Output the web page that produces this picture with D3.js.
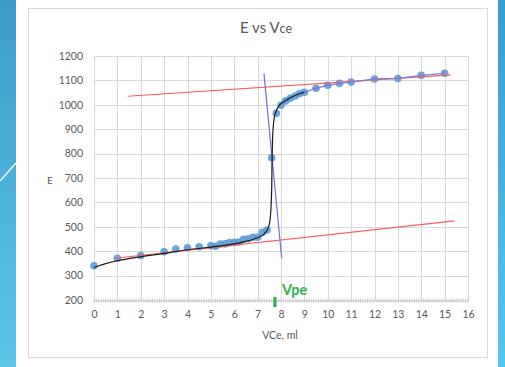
<!DOCTYPE html>
<html>
<head>
<meta charset="utf-8">
<script src="https://cdn.jsdelivr.net/npm/d3@7"></script>
<style>
  html, body { margin: 0; padding: 0; background: #fff; }
  svg { display: block; }
</style>
</head>
<body>
<svg id="chart" width="505" height="367"></svg>
<script>
// Titration readings: titrant volume (ml) and measured potential E
const vce = [0, 1, 2, 3, 3.5, 4, 4.5, 5, 5.2, 5.4, 5.6, 5.8, 6, 6.2, 6.4, 6.6, 6.8, 7, 7.2, 7.4,
             7.6, 7.8, 8, 8.2, 8.4, 8.6, 8.8, 9, 9.5, 10, 10.5, 11, 12, 13, 14, 15];
const eVals = [340, 371, 382, 398, 409, 414, 418, 422, 420, 429, 430, 435, 436, 438, 449, 451, 457, 457, 477, 487,
               783, 965, 998, 1016, 1027, 1036, 1046, 1051, 1068, 1080, 1088, 1093, 1106, 1108, 1121, 1129];

// Smoothed titration curve (hand-fitted)
const fitX = [0, 0.5, 1, 2, 3, 4, 5, 6, 6.5, 7, 7.25, 7.4, 7.5, 7.56, 7.6, 7.62, 7.66, 7.74, 7.9, 8.2, 8.6, 9];
const fitE = [333, 349, 361, 377, 391, 406, 417, 430, 440, 455, 468, 485, 510, 560, 650, 780, 900, 960, 995, 1018, 1038, 1052];

// Construction lines: two parallel baselines and the steep tangent
const upperLine = [[1.44, 1035], [15.26, 1123]];
const lowerLine = [[0.9, 371], [15.43, 524]];
const tangentLine = [[7.27, 1129], [8.03, 371]];

// Equivalence volume marker
const vpe = 7.74;

const xTicks = d3.range(0, 17);
const yTicks = d3.range(200, 1201, 100);

const svg = d3.select("#chart");
const W = 505, H = 367;

// Slide background strips
const defs = svg.append("defs");
const grad = defs.append("linearGradient").attr("id", "slideBlue")
  .attr("x1", 0).attr("y1", 0).attr("x2", 0).attr("y2", 1);
grad.append("stop").attr("offset", "0%").attr("stop-color", "#3c9ccb");
grad.append("stop").attr("offset", "100%").attr("stop-color", "#5ac6e8");

svg.append("rect").attr("x", 0).attr("y", 0).attr("width", W).attr("height", H).attr("fill", "#fff");
svg.append("rect").attr("x", 0).attr("y", 0).attr("width", 16).attr("height", H).attr("fill", "url(#slideBlue)");
svg.append("rect").attr("x", 498).attr("y", 0).attr("width", 7).attr("height", H).attr("fill", "url(#slideBlue)");
svg.append("line").attr("x1", 0).attr("y1", 181).attr("x2", 16).attr("y2", 163)
  .attr("stroke", "#fff").attr("stroke-width", 1.2);

// Chart area frame
svg.append("rect").attr("x", 28.5).attr("y", 8.5).attr("width", 459).attr("height", 349)
  .attr("fill", "#fff").attr("stroke", "#d9d9d9");

const x = d3.scaleLinear().domain([0, 16]).range([94, 468]);
const y = d3.scaleLinear().domain([200, 1200]).range([300, 56]);

const font = "Lato, 'Open Sans', sans-serif";
const grey = "#595959";

// Gridlines
const grid = svg.append("g");
grid.selectAll("line.h").data(yTicks.filter(d => d > 200)).join("line")
  .attr("x1", x(0)).attr("x2", x(16))
  .attr("y1", d => Math.round(y(d)) + 0.5).attr("y2", d => Math.round(y(d)) + 0.5)
  .attr("stroke", "#d9d9d9").attr("stroke-width", 1);
grid.selectAll("line.v").data(xTicks).join("line")
  .attr("y1", y(1200)).attr("y2", y(200))
  .attr("x1", d => Math.round(x(d)) + 0.5).attr("x2", d => Math.round(x(d)) + 0.5)
  .attr("stroke", "#d9d9d9").attr("stroke-width", 1);

// X axis with minor ticks
const xAxis = d3.axisBottom(x).tickValues(xTicks).tickSize(0).tickPadding(10).tickFormat(d3.format("d"));
const gx = svg.append("g").attr("transform", `translate(0,${Math.round(y(200)) + 0.5})`).call(xAxis);
gx.select(".domain").attr("stroke", "#bfbfbf");
gx.selectAll("text").attr("fill", grey).attr("font-size", "10.5px").attr("font-family", font);
const minor = d3.range(0, 160.5, 1).map(i => i / 10);
gx.selectAll("line.minor").data(minor).join("line").attr("class", "minor")
  .attr("x1", d => x(d)).attr("x2", d => x(d)).attr("y1", -2).attr("y2", 2)
  .attr("stroke", "#c4c4c4").attr("stroke-width", 0.8);

// Y axis labels
const yAxis = d3.axisLeft(y).tickValues(yTicks).tickSize(0).tickPadding(11).tickFormat(d3.format("d"));
const gy = svg.append("g").attr("transform", `translate(${x(0)},0)`).call(yAxis);
gy.select(".domain").remove();
gy.selectAll("text").attr("fill", grey).attr("font-size", "10.5px").attr("font-family", font);

// Data points
const pts = vce.map((v, i) => [v, eVals[i]]);
svg.append("g").selectAll("circle").data(pts).join("circle")
  .attr("cx", d => x(d[0])).attr("cy", d => y(d[1])).attr("r", 3.8)
  .attr("fill", "#5b9bd5").attr("fill-opacity", 0.9);

const line = d3.line().x(d => x(d[0])).y(d => y(d[1]));

// Red baselines
[upperLine, lowerLine].forEach(seg => {
  svg.append("path").attr("d", line(seg)).attr("fill", "none")
    .attr("stroke", "#ff5a5a").attr("stroke-width", 1.2);
});

// Series line over the upper plateau
svg.append("path").attr("d", line(pts.filter(d => d[0] >= 8.8))).attr("fill", "none")
  .attr("stroke", "#7b7be6").attr("stroke-width", 1.3);

// Steep tangent
svg.append("path").attr("d", line(tangentLine)).attr("fill", "none")
  .attr("stroke", "#7070e0").attr("stroke-width", 1.2);

// Smoothed curve
const fitPts = fitX.map((v, i) => [v, fitE[i]]);
svg.append("path").attr("d", line.curve(d3.curveCatmullRom.alpha(0.5))(fitPts)).attr("fill", "none")
  .attr("stroke", "#1a1a1a").attr("stroke-width", 1.2);

// Vpe marker
svg.append("rect").attr("x", x(vpe) - 1.5).attr("y", 297).attr("width", 3).attr("height", 10)
  .attr("fill", "#22b14c");
svg.append("text").attr("x", 282).attr("y", 295).text("Vpe")
  .attr("fill", "#2db34a").attr("font-size", "14.5px").attr("font-weight", "bold").attr("font-family", font);

// Titles
const title = svg.append("text").attr("x", 266).attr("y", 33).attr("text-anchor", "middle")
  .attr("fill", grey).attr("font-family", font).attr("font-size", "15px");
title.append("tspan").text("E vs V");
title.append("tspan").attr("font-size", "12.5px").text("ce");

svg.append("text").attr("x", 280).attr("y", 339).attr("text-anchor", "middle")
  .attr("fill", grey).attr("font-family", font).attr("font-size", "10.5px").text("VCe,  ml");
svg.append("text").attr("x", 50).attr("y", 184).attr("text-anchor", "middle")
  .attr("fill", grey).attr("font-family", font).attr("font-size", "10px").text("E");
</script>
</body>
</html>
